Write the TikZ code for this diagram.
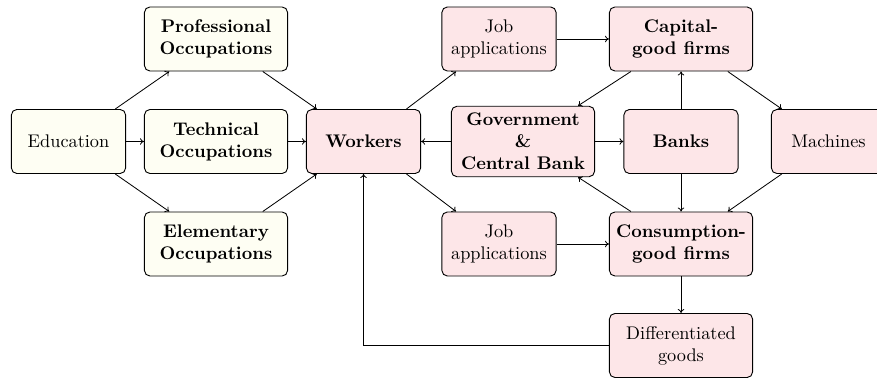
\documentclass[tikz,border=0pt]{standalone}
\usetikzlibrary{arrows.meta}
\definecolor{ylw}{RGB}{254,254,243}
\definecolor{pnk}{RGB}{253,230,232}
\tikzset{
  box/.style={draw, rounded corners=3pt, align=center, inner sep=2pt, line width=0.5pt},
  yb/.style={box, fill=ylw},
  pb/.style={box, fill=pnk},
  wide/.style={minimum width=78.2pt, minimum height=35pt},
  narrow/.style={minimum width=62.4pt, minimum height=35pt},
  arr/.style={-{To[length=2.2pt,width=3.6pt]}, line width=0.45pt},
}
\begin{document}
\begin{tikzpicture}[x=0.5464pt, y=-0.5464pt]
\useasboundingbox (0,0) rectangle (877,379);
\node[yb, narrow] (edu) at (68.5,141.5) {Education};
\node[yb, wide] (prof) at (216,39) {\textbf{Professional}\\\textbf{Occupations}};
\node[yb, wide] (tech) at (216,141.5) {\textbf{Technical}\\\textbf{Occupations}};
\node[yb, wide] (elem) at (216,244) {\textbf{Elementary}\\\textbf{Occupations}};
\node[pb, narrow] (work) at (363.5,141.5) {\textbf{Workers}};
\node[pb, narrow] (jobt) at (499,39) {Job\\applications};
\node[pb, wide, minimum height=38.5pt] (gov) at (523,141.5) {\textbf{Government}\\\textbf{\&}\\\textbf{Central Bank}};
\node[pb, wide] (cap) at (681,39) {\textbf{Capital-}\\\textbf{good firms}};
\node[pb, narrow] (bank) at (681,141.5) {\textbf{Banks}};
\node[pb, narrow] (mach) at (828.5,141.5) {Machines};
\node[pb, narrow] (jobb) at (499,244) {Job\\applications};
\node[pb, wide] (cons) at (681,244) {\textbf{Consumption-}\\\textbf{good firms}};
\node[pb, wide] (diff) at (681,345.5) {Differentiated\\goods};

\draw[arr] (edu) -- (prof);
\draw[arr] (edu) -- (tech);
\draw[arr] (edu) -- (elem);
\draw[arr] (prof) -- (work);
\draw[arr] (tech) -- (work);
\draw[arr] (elem) -- (work);
\draw[arr] (work) -- (jobt);
\draw[arr] (work) -- (jobb);
\draw[arr] (jobt) -- (cap);
\draw[arr] (jobb) -- (cons);
\draw[arr] (cap) -- (gov);
\draw[arr] (cons) -- (gov);
\draw[arr] (gov) -- (work);
\draw[arr] (gov) -- (bank);
\draw[arr] (bank) -- (cap);
\draw[arr] (bank) -- (cons);
\draw[arr] (cap) -- (mach);
\draw[arr] (mach) -- (cons);
\draw[arr] (cons) -- (diff);
\draw[arr] (diff.west) -| (work.south);
\end{tikzpicture}
\end{document}
